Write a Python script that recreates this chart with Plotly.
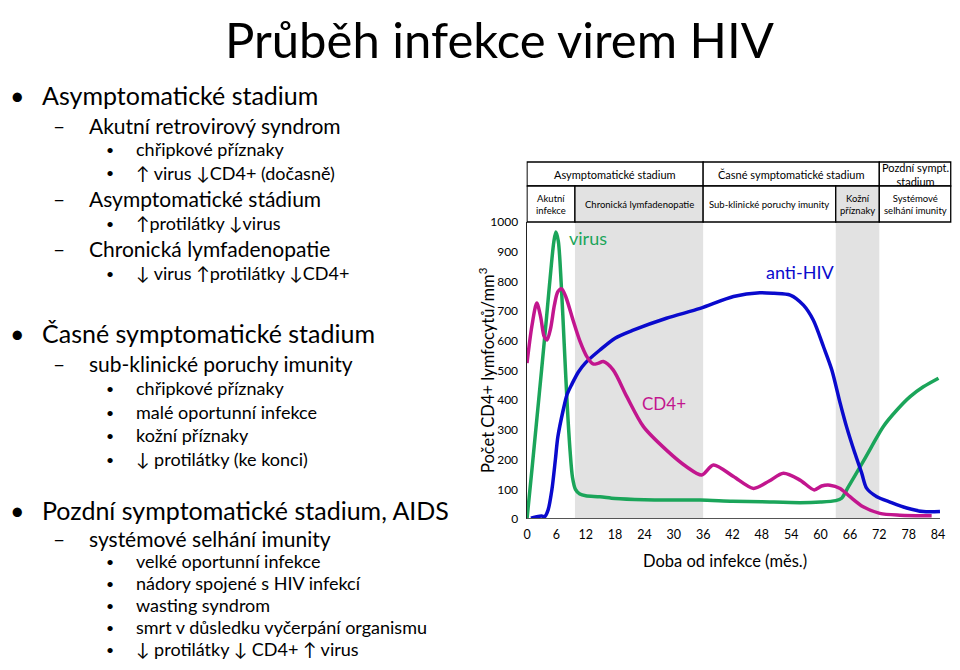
import plotly.graph_objects as go

# ---------------- data ----------------
virus_x = [0, 1, 2, 3, 4, 5, 5.5, 5.9, 6.4, 7.0, 7.6, 8.2, 8.8, 9.3, 9.9, 10.8, 12, 14.9, 18, 24, 30, 35.4, 42, 48, 55.8, 60, 63.1, 64.3, 65.7, 68.1, 70.4, 72.8, 75.6, 78.3, 81.0, 84.1]
virus_y = [0, 165, 335, 505, 680, 860, 935, 966, 935, 790, 590, 390, 230, 140, 100, 84, 78, 75, 69, 65, 64, 64, 60, 58, 55, 57, 62, 70, 109, 176, 243, 311, 367, 412, 445, 474]

cd4_x = [0, 1, 2.0, 2.8, 3.5, 4.1, 4.8, 5.6, 6.3, 7.1, 8, 9.4, 10.8, 12.3, 13.5, 14.5, 15.6, 17.6, 20.4, 23.8, 28.5, 32.6, 35.7, 38.1, 42.2, 46.3, 49.5, 52.4, 55.8, 58.7, 60.2, 61.9, 64.0, 66.0, 68.7, 72.1, 76.2, 82.7]
cd4_y = [525, 650, 727, 680, 615, 603, 640, 720, 765, 775, 745, 670, 600, 545, 522, 524, 530, 502, 412, 311, 232, 176, 148, 182, 143, 103, 128, 154, 131, 98, 111, 114, 103, 75, 41, 19, 13, 11]

hiv_x = [0.8, 2, 3, 3.6, 4.3, 5.1, 5.8, 6.3, 7.4, 8.2, 9.2, 10.5, 11.9, 14.9, 18, 21.7, 28.5, 35.4, 42.2, 47.6, 50.5, 53.8, 56.5, 58.5, 60.6, 62.3, 64.0, 65.3, 67.0, 68.4, 69.4, 71.5, 74.2, 77.6, 81.0, 84.4]
hiv_y = [3, 8, 10, 8, 30, 100, 200, 276, 367, 420, 455, 495, 525, 569, 609, 636, 676, 709, 749, 762, 760, 754, 720, 670, 580, 502, 390, 311, 222, 155, 104, 75, 57, 37, 25, 25]

x_ticks = [0, 6, 12, 18, 24, 30, 36, 42, 48, 54, 60, 66, 72, 78, 84]
y_ticks = [0, 100, 200, 300, 400, 500, 600, 700, 800, 900, 1000]

# phases (months)
bands = [(9.8, 36), (63.1, 72)]
top_row = [(0, 36, "Asymptomatické stadium"), (36, 72, "Časné symptomatické stadium"), (72, 86.6, "Pozdní sympt.<br>stadium")]
bottom_row = [(0, 9.8, "Akutní<br>infekce", False), (9.8, 36, "Chronická lymfadenopatie", True),
              (36, 63.1, "Sub-klinické poruchy imunity", False), (63.1, 72, "Kožní<br>příznaky", True),
              (72, 86.6, "Systémové<br>selhání imunity", False)]

title = "Průběh infekce virem HIV"
x_title = "Doba od infekce (měs.)"
y_title = "Počet CD4+ lymfocytů/mm<sup>3</sup>"

# outline text: (level, text, y pixel)
outline = [
    (1, "Asymptomatické stadium", 95),
    (2, "Akutní retrovirový syndrom", 125),
    (3, "chřipkové příznaky", 149),
    (3, "↑ virus ↓CD4+ (dočasně)", 173),
    (2, "Asymptomatické stádium", 198),
    (3, "↑protilátky ↓virus", 223),
    (2, "Chronická lymfadenopatie", 248),
    (3, "↓ virus ↑protilátky ↓CD4+", 273),
    (1, "Časné symptomatické stadium", 333),
    (2, "sub-klinické poruchy imunity", 363),
    (3, "chřipkové příznaky", 388),
    (3, "malé oportunní infekce", 412),
    (3, "kožní příznaky", 435),
    (3, "↓ protilátky (ke konci)", 459),
    (1, "Pozdní symptomatické stadium, AIDS", 510),
    (2, "systémové selhání imunity", 538),
    (3, "velké oportunní infekce", 561),
    (3, "nádory spojené s HIV infekcí", 583),
    (3, "wasting syndrom", 605),
    (3, "smrt v důsledku vyčerpání organismu", 627),
    (3, "↓ protilátky ↓ CD4+ ↑ virus", 649),
]

GREEN = "#1BA55A"
BLUE = "#0A0ACD"
MAGENTA = "#C2168E"
GRAY = "#E2E2E2"
FONT = "Lato"

# figure sized so that, with the page's 8px body margin, it fills the 960x670 window
OFF = 8
W, H = 960 - 2 * OFF, 670 - 2 * OFF
def px(x):  # window pixel -> paper x
    return (x - OFF) / W
def py(y):  # window pixel -> paper y
    return 1 - (y - OFF) / H

fig = go.Figure()
fig.add_trace(go.Scatter(x=virus_x, y=virus_y, mode="lines", line=dict(color=GREEN, width=3.5, shape="spline", smoothing=0.8), name="virus"))
fig.add_trace(go.Scatter(x=hiv_x, y=hiv_y, mode="lines", line=dict(color=BLUE, width=3.5, shape="spline", smoothing=0.8), name="anti-HIV"))
fig.add_trace(go.Scatter(x=cd4_x, y=cd4_y, mode="lines", line=dict(color=MAGENTA, width=3.5, shape="spline", smoothing=0.8), name="CD4+"))

shapes = []
for a, b in bands:
    shapes.append(dict(type="rect", xref="x", yref="y", x0=a, x1=b, y0=0, y1=1000,
                       fillcolor=GRAY, line=dict(width=0), layer="below"))
# x axis line
shapes.append(dict(type="line", xref="x", yref="y", x0=-0.1, x1=84.4, y0=0, y1=0,
                   line=dict(color="#555555", width=2)))

# table
t_top, t_mid, t_bot = py(162), py(186), py(222)
annotations = []
for a, b, txt in top_row:
    shapes.append(dict(type="rect", xref="x", yref="paper", x0=a, x1=b, y0=t_mid, y1=t_top,
                       line=dict(color="black", width=1.3), fillcolor="white"))
    annotations.append(dict(x=(a + b) / 2, y=(t_mid + t_top) / 2, xref="x", yref="paper", text=txt,
                            showarrow=False, font=dict(family=FONT, size=11, color="black"),
                            xanchor="center", yanchor="middle"))
for a, b, txt, grey in bottom_row:
    shapes.append(dict(type="rect", xref="x", yref="paper", x0=a, x1=b, y0=t_bot, y1=t_mid,
                       line=dict(color="black", width=1.3), fillcolor=GRAY if grey else "white"))
    annotations.append(dict(x=(a + b) / 2, y=(t_bot + t_mid) / 2, xref="x", yref="paper", text=txt,
                            showarrow=False, font=dict(family=FONT, size=9.5, color="black"),
                            xanchor="center", yanchor="middle"))

# curve labels
annotations.append(dict(x=12.5, y=946, xref="x", yref="y", text="virus", showarrow=False,
                        xanchor="center", yanchor="middle", font=dict(family=FONT, size=18, color=GREEN)))
annotations.append(dict(x=55.8, y=830, xref="x", yref="y", text="anti-HIV", showarrow=False,
                        xanchor="center", yanchor="middle", font=dict(family=FONT, size=18, color=BLUE)))
annotations.append(dict(x=28.0, y=389, xref="x", yref="y", text="CD4+", showarrow=False,
                        xanchor="center", yanchor="middle", font=dict(family=FONT, size=17, color=MAGENTA)))

# axis titles
annotations.append(dict(x=px(725), y=py(561), xref="paper", yref="paper", text=x_title, showarrow=False,
                        xanchor="center", yanchor="middle", font=dict(family=FONT, size=16.5, color="black")))
annotations.append(dict(x=px(487), y=py(370), xref="paper", yref="paper", text=y_title, showarrow=False,
                        xanchor="center", yanchor="middle", textangle=-90,
                        font=dict(family=FONT, size=16.5, color="black")))

# slide title (kept fully inside the figure)
annotations.append(dict(x=px(500), y=1, xref="paper", yref="paper", text=title, showarrow=False,
                        font=dict(family=FONT, size=49, color="black"), xanchor="center", yanchor="top"))

# outline
level_cfg = {
    1: dict(bx=8, bchar="•", tx=40, size=25, bsize=25),
    2: dict(bx=51, bchar="–", tx=87, size=21, bsize=21),
    3: dict(bx=104, bchar="•", tx=134, size=18, bsize=14),
}
for lvl, txt, yy in outline:
    c = level_cfg[lvl]
    annotations.append(dict(x=px(c["bx"]), y=py(yy), xref="paper", yref="paper", text=c["bchar"],
                            showarrow=False, xanchor="left", yanchor="middle",
                            font=dict(family=FONT, size=c["bsize"], color="black")))
    annotations.append(dict(x=px(c["tx"]), y=py(yy), xref="paper", yref="paper", text=txt,
                            showarrow=False, xanchor="left", yanchor="middle",
                            font=dict(family=FONT, size=c["size"], color="black")))

# month 0 at window x=527, 4.893 px per month; x domain runs from window x 526.5 to the right edge
x_left_px, x_right_px = 526.5, 960 - OFF
ppm = 4.893
x_range = [(x_left_px - 527) / ppm, (x_right_px - 527) / ppm]

fig.update_layout(
    width=W, height=H,
    margin=dict(l=0, r=0, t=0, b=0, autoexpand=False),
    paper_bgcolor="white", plot_bgcolor="white",
    showlegend=False,
    shapes=shapes,
    annotations=annotations,
    xaxis=dict(domain=[px(x_left_px), px(x_right_px)], range=x_range, tickvals=x_ticks,
               showgrid=False, zeroline=False, showline=False, ticks="", automargin=False,
               tickfont=dict(family=FONT, size=12.5, color="black"), ticklabelstandoff=6),
    yaxis=dict(domain=[py(519), py(222)], range=[0, 1000], tickvals=y_ticks,
               showgrid=False, zeroline=False, showline=True, linecolor="#222222", linewidth=1,
               ticks="", automargin=False,
               tickfont=dict(family=FONT, size=12, color="black"), ticklabelstandoff=5),
)

fig.write_html("out.html")
